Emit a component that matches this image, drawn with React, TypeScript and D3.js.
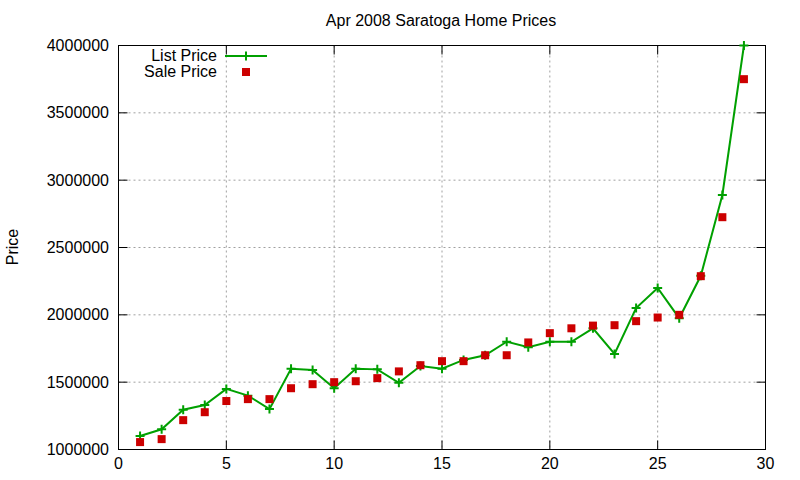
import React from "react";
import * as d3 from "d3";

const homes = [1, 2, 3, 4, 5, 6, 7, 8, 9, 10, 11, 12, 13, 14, 15, 16, 17, 18, 19, 20, 21, 22, 23, 24, 25, 26, 27, 28, 29];
const listPrice = [1100000, 1150000, 1295000, 1330000, 1450000, 1400000, 1300000, 1600000, 1590000, 1455000, 1600000, 1595000, 1495000, 1620000, 1600000, 1665000, 1700000, 1800000, 1760000, 1800000, 1800000, 1900000, 1710000, 2050000, 2200000, 1975000, 2290000, 2890000, 4000000];
const salePrice = [1055000, 1077000, 1218000, 1277000, 1360000, 1374000, 1374000, 1455000, 1485000, 1500000, 1507000, 1530000, 1580000, 1626000, 1656000, 1656000, 1700000, 1700000, 1795000, 1864000, 1900000, 1920000, 1923000, 1953000, 1980000, 2000000, 2287000, 2725000, 3750000];
const xTicks = [0, 5, 10, 15, 20, 25, 30];
const yTicks = [1000000, 1500000, 2000000, 2500000, 3000000, 3500000, 4000000];

const GREEN = "#00a000";
const RED = "#cc0000";
const FONT = "'Liberation Sans', Arial, sans-serif";

export default function App() {
  const left = 118.5, right = 765.5, top = 45.5, bottom = 449.5;
  const x = d3.scaleLinear().domain([0, 30]).range([left, right]);
  const y = d3.scaleLinear().domain([1000000, 4000000]).range([bottom, top]);
  const line = d3.line<number>().x((_, i) => x(homes[i])).y((d) => y(d));
  const tick = 9;

  return (
    <svg width={800} height={480} style={{ position: "absolute", left: 0, top: 0, background: "#fff" }} fontFamily={FONT}>
      <rect x={0} y={0} width={800} height={480} fill="#fff" />
      {/* grid */}
      {xTicks.slice(1, -1).map((t) => (
        <line key={"gx" + t} x1={x(t)} x2={x(t)} y1={top} y2={bottom} stroke="#a0a0a0" strokeWidth={1} strokeDasharray="2,3" />
      ))}
      {yTicks.slice(1, -1).map((t) => (
        <line key={"gy" + t} x1={left} x2={right} y1={y(t)} y2={y(t)} stroke="#a0a0a0" strokeWidth={1} strokeDasharray="2,3" />
      ))}
      {/* ticks */}
      {xTicks.map((t) => (
        <g key={"tx" + t}>
          <line x1={x(t)} x2={x(t)} y1={bottom} y2={bottom - tick} stroke="#000" />
          <line x1={x(t)} x2={x(t)} y1={top} y2={top + tick} stroke="#000" />
          <text x={x(t)} y={469} textAnchor="middle" fontSize={16} fill="#000">{t}</text>
        </g>
      ))}
      {yTicks.map((t) => (
        <g key={"ty" + t}>
          <line x1={left} x2={left + tick} y1={y(t)} y2={y(t)} stroke="#000" />
          <line x1={right} x2={right - tick} y1={y(t)} y2={y(t)} stroke="#000" />
          <text x={109} y={y(t) + 5.5} textAnchor="end" fontSize={16} fill="#000">{t}</text>
        </g>
      ))}
      <rect x={left} y={top} width={right - left} height={bottom - top} fill="none" stroke="#000" strokeWidth={1} />
      {/* title & labels */}
      <text x={441} y={26} textAnchor="middle" fontSize={16} fill="#000">Apr 2008 Saratoga Home Prices</text>
      <text transform="translate(18,247) rotate(-90)" textAnchor="middle" fontSize={16} fill="#000">Price</text>
      {/* list line */}
      <path d={line(listPrice) || ""} fill="none" stroke={GREEN} strokeWidth={2} />
      {listPrice.map((v, i) => (
        <path key={"lp" + i} d={`M${x(homes[i]) - 4.5},${y(v)}h9M${x(homes[i])},${y(v) - 4.5}v9`} stroke={GREEN} strokeWidth={2} />
      ))}
      {salePrice.map((v, i) => (
        <rect key={"sp" + i} x={x(homes[i]) - 4} y={y(v) - 4} width={8} height={8} fill={RED} />
      ))}
      {/* legend */}
      <text x={217} y={61} textAnchor="end" fontSize={16} fill="#000">List Price</text>
      <line x1={225} x2={267} y1={56} y2={56} stroke={GREEN} strokeWidth={2} />
      <path d="M241.5,56h9M246,51.5v9" stroke={GREEN} strokeWidth={2} />
      <text x={217} y={77} textAnchor="end" fontSize={16} fill="#000">Sale Price</text>
      <rect x={242} y={68} width={8} height={8} fill={RED} />
    </svg>
  );
}
